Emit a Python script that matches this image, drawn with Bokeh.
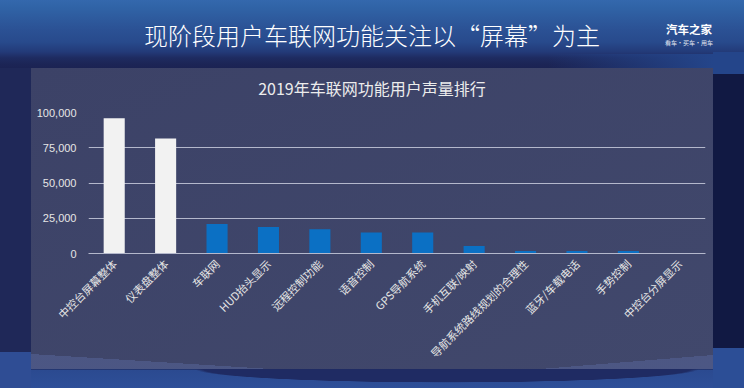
from math import pi
from bokeh.plotting import figure
from bokeh.layouts import column
from bokeh.models import (ColumnDataSource, FactorRange, Range1d, FixedTicker,
                          NumeralTickFormatter, Div, GlobalInlineStyleSheet)
from bokeh.embed import file_html
from bokeh.resources import INLINE

# ---- data ----
categories = ["中控台屏幕整体", "仪表盘整体", "车联网", "HUD抬头显示", "远程控制功能",
              "语音控制", "GPS导航系统", "手机互联/映射", "导航系统路线规划的合理性",
              "蓝牙/车载电话", "手势控制", "中控台分屏显示"]
values = [96000, 81500, 21000, 18800, 17200, 14900, 14900, 5400, 1800, 1700, 1700, 300]
y_ticks = [0, 25000, 50000, 75000, 100000]
main_title = "现阶段用户车联网功能关注以“屏幕”为主"
chart_title = "2019年车联网功能用户声量排行"
logo_main = "汽车之家"
logo_sub = "看车·买车·用车"

WHITE_BAR = "#f2f2f2"
BLUE_BAR = "#0b70c4"
colors = [WHITE_BAR if i < 2 else BLUE_BAR for i in range(len(categories))]
source = ColumnDataSource(dict(cat=categories, val=values, color=colors))

W, H = 744, 388          # whole layout
HEAD = 100               # header height (titles)
PH = H - HEAD            # chart figure height
FL, FR = 88, 705         # frame left/right
FT, FB = 12, 153         # frame top/bottom inside the chart figure

p = figure(width=W, height=PH, x_range=FactorRange(*categories), y_range=Range1d(0, 100000),
           output_backend="svg", toolbar_location=None, title=None,
           min_border_left=FL, min_border_right=W - FR, min_border_top=FT,
           min_border_bottom=PH - FB)
p.background_fill_color = None
p.border_fill_color = None
p.outline_line_color = None

# ---- bars ----
p.vbar(x="cat", top="val", width=0.41, source=source, fill_color="color", line_color=None)

# ---- axes / grid ----
p.xgrid.grid_line_color = None
p.ygrid.grid_line_color = "#b4b8cc"
p.yaxis.ticker = FixedTicker(ticks=y_ticks)
p.yaxis.formatter = NumeralTickFormatter(format="0,0")
p.yaxis.axis_line_color = None
p.yaxis.major_tick_line_color = None
p.yaxis.minor_tick_line_color = None
p.yaxis.major_tick_out = 0
p.yaxis.minor_tick_out = 0
p.yaxis.major_label_standoff = 12
p.yaxis.major_label_text_color = "#e6e6e6"
p.yaxis.major_label_text_font = "Liberation Sans"
p.yaxis.major_label_text_font_size = "11px"

p.xaxis.axis_line_color = "#b4b8cc"
p.xaxis.major_tick_line_color = None
p.xaxis.minor_tick_line_color = None
p.xaxis.major_tick_out = 0
p.xaxis.minor_tick_out = 0
p.xaxis.major_label_orientation = pi / 4
p.xaxis.major_label_standoff = 8
p.xaxis.major_label_text_color = "#e6e6e6"
p.xaxis.major_label_text_font = "Noto Sans CJK SC"
p.xaxis.major_label_text_font_size = "11px"

# ---- header (main title, logo, chart title) ----
header_html = (
    '<div style="position:relative;width:744px;height:100px;font-family:\'Noto Sans CJK SC\';">'
    '<div style="position:absolute;left:0;top:21px;width:744px;text-align:center;color:#ffffff;'
    f'font-size:24px;font-weight:300;line-height:28px;white-space:nowrap;">{main_title}</div>'
    '<div style="position:absolute;left:658px;top:23.5px;width:62px;text-align:center;color:#ffffff;'
    f'font-size:11.5px;font-weight:bold;line-height:11.5px;white-space:nowrap;">{logo_main}</div>'
    '<div style="position:absolute;left:658px;top:40px;width:62px;text-align:center;color:#e0e6f0;'
    f'font-size:6px;line-height:6px;white-space:nowrap;">{logo_sub}</div>'
    '<div style="position:absolute;left:0;top:78px;width:744px;text-align:center;color:#ececec;'
    f'font-size:16px;line-height:20px;white-space:nowrap;">{chart_title}</div>'
    '</div>'
)
header = Div(text=header_html, width=W, height=HEAD, margin=0)

# ---- background (CSS layers, top first) ----
layers = [
    # panel streaks
    "linear-gradient(to top right, rgba(80,92,140,0.75) 50%, transparent 50%) 31px 354px / 240px 15px no-repeat",
    "linear-gradient(to top left, rgba(80,92,140,0.75) 50%, transparent 50%) 540px 355px / 173px 14px no-repeat",
    # panel
    "linear-gradient(to bottom right, #3c4267, #41486c) 31px 68px / 682px 301px no-repeat",
    # dark wedge under panel
    "radial-gradient(ellipse at top, #1f2b63 0, #1f2b63 58%, transparent 60%) 150px 369px / 594px 16px no-repeat",
    # right strip / streaks
    "linear-gradient(#111943, #111943) 713px 74px / 31px 274px no-repeat",
    "linear-gradient(#2c4e96, #2c4e96) 713px 346px / 31px 42px no-repeat",
    "linear-gradient(#24458a, #24458a) 713px 52px / 31px 24px no-repeat",
    "linear-gradient(to right, rgba(36,69,138,0), #24458a) 548px 54px / 165px 14px no-repeat",
    # left strip
    "linear-gradient(#1f2858, #1f2858) 0px 68px / 31px 284px no-repeat",
    "linear-gradient(#2f4d94, #2f4d94) 0px 352px / 31px 36px no-repeat",
    # horizontal bands
    "linear-gradient(to bottom, #3468ad 0px, #3063a6 8px, #2b5194 30px, #284a8c 42px, "
    "#233a78 52px, #1e2b60 58px, #1c2556 64px, #1b2353 68px, #1b2353 369px, #2b4a90 370px, #2e4f98 388px)",
]
bg_css = ", ".join(layers)

layout = column(header, p, width=W, height=H, spacing=0,
                styles={"background": bg_css})
layout.stylesheets = [GlobalInlineStyleSheet(css="html,body{background:#1b2353;}")]

open("out.html", "w").write(file_html(layout, INLINE))
